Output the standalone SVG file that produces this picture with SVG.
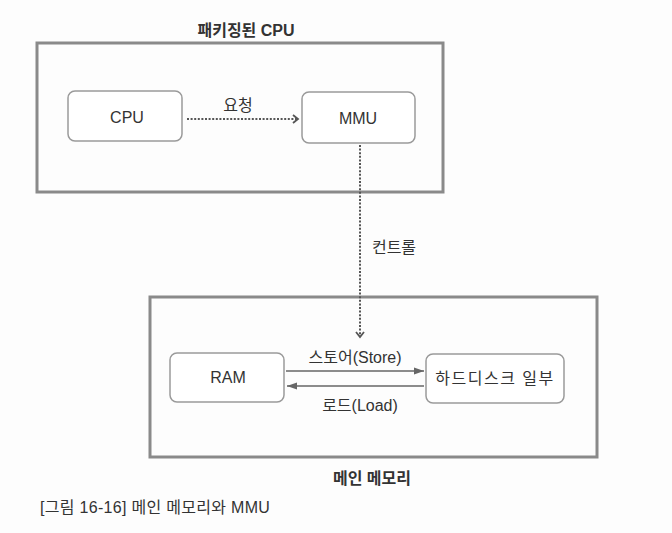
<svg xmlns="http://www.w3.org/2000/svg" width="672" height="533" viewBox="0 0 672 533">
<style>
text{font-family:"Liberation Sans","Noto Sans CJK KR",sans-serif;fill:#333;}
.outer{fill:none;stroke:#8a8a8a;stroke-width:3;}
.node{fill:#fff;stroke:#9a9a9a;stroke-width:1.5;}
.lbl{font-size:16px;text-anchor:middle;}
.title{font-size:16px;font-weight:bold;text-anchor:middle;}
.dot{fill:none;stroke:#555;stroke-width:2;stroke-dasharray:2 1.6;}
.solid{fill:none;stroke:#666;stroke-width:1.5;}
</style>
<defs>
<marker id="chev" markerWidth="10" markerHeight="10" refX="7" refY="5" orient="auto" markerUnits="userSpaceOnUse">
<path d="M2,1 L7,5 L2,9" fill="none" stroke="#555" stroke-width="1.8"/>
</marker>
<marker id="tri" markerWidth="12" markerHeight="10" refX="10" refY="5" orient="auto" markerUnits="userSpaceOnUse">
<path d="M0,1.5 L10,5 L0,8.5 Z" fill="#666"/>
</marker>
</defs>
<rect width="672" height="533" fill="#fdfdfd"/>
<g id="packaged-cpu">
<rect class="outer" x="37" y="43" width="406" height="149"/>
<text class="title" x="246" y="36">패키징된 CPU</text>
</g>
<g id="cpu">
<rect class="node" x="68" y="91" width="114" height="50" rx="7"/>
<text class="lbl" x="127" y="123">CPU</text>
</g>
<g id="mmu">
<rect class="node" x="302" y="92" width="113" height="51" rx="7"/>
<text class="lbl" x="358" y="124">MMU</text>
</g>
<g id="main-memory">
<rect class="outer" x="150" y="297" width="447" height="160"/>
<text class="title" x="372" y="484">메인 메모리</text>
</g>
<g id="ram">
<rect class="node" x="170" y="353" width="114" height="49" rx="7"/>
<text class="lbl" x="228" y="383">RAM</text>
</g>
<g id="hdd">
<rect class="node" x="426" y="354" width="138" height="49" rx="7"/>
<text class="lbl" x="495" y="384" style="letter-spacing:1.5px">하드디스크 일부</text>
</g>
<g id="connectors">
<line class="dot" x1="187" y1="119" x2="298" y2="119" marker-end="url(#chev)"/>
<text class="lbl" x="238" y="111">요청</text>
<line class="dot" x1="360" y1="145" x2="360" y2="337" marker-end="url(#chev)"/>
<text class="lbl" x="394" y="253">컨트롤</text>
<line class="solid" x1="286" y1="371" x2="424" y2="371" marker-end="url(#tri)"/>
<text class="lbl" x="355" y="363">스토어(Store)</text>
<line class="solid" x1="424" y1="386" x2="287" y2="386" marker-end="url(#tri)"/>
<text class="lbl" x="360" y="411">로드(Load)</text>
</g>
<text x="40" y="513" style="font-size:16px;letter-spacing:0.3px">[그림 16-16] 메인 메모리와 MMU</text>
</svg>
